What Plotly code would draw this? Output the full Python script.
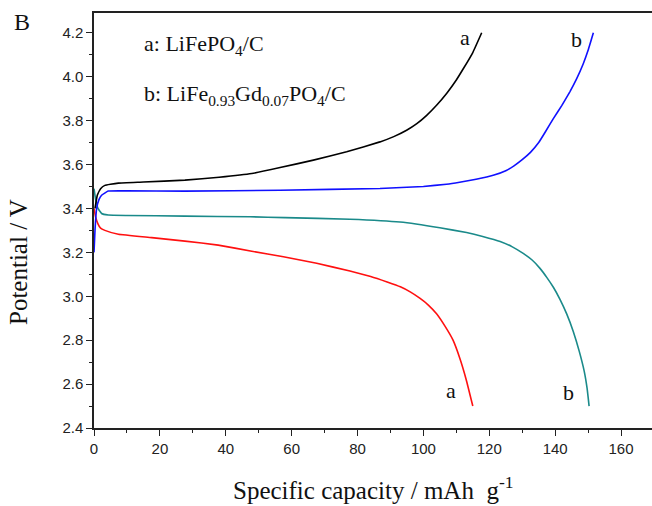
import plotly.graph_objects as go

# Charge curve a: LiFePO4/C (black)
a_charge_x = [0.3, 1.0, 2.0, 3.3, 5.0, 7.4, 15, 27.6, 38, 47.9, 56.5, 66.6, 76.7, 86.8, 91, 94.9, 98, 101, 104, 107.1, 110, 112.1, 115, 117.7]
a_charge_y = [3.40, 3.46, 3.49, 3.505, 3.51, 3.515, 3.52, 3.529, 3.542, 3.559, 3.586, 3.62, 3.658, 3.703, 3.727, 3.756, 3.786, 3.824, 3.87, 3.925, 3.985, 4.036, 4.11, 4.20]

# Charge curve b: LiFe0.93Gd0.07PO4/C (blue)
b_charge_x = [0.0, 0.3, 0.8, 1.5, 2.3, 4.3, 10, 27.6, 56.5, 86.8, 100, 107, 111, 116, 121.2, 125, 127.5, 130, 132.5, 135, 137, 139.4, 142, 144.5, 146.5, 148.5, 150, 151.6]
b_charge_y = [3.20, 3.30, 3.40, 3.44, 3.46, 3.479, 3.48, 3.479, 3.483, 3.491, 3.500, 3.510, 3.519, 3.533, 3.551, 3.572, 3.594, 3.622, 3.655, 3.700, 3.748, 3.808, 3.868, 3.932, 3.990, 4.058, 4.120, 4.20]

# Discharge curve b (teal)
b_dis_x = [0.0, 0.5, 1.2, 2.3, 4.3, 10, 27.6, 47.4, 58, 77.7, 92.9, 105, 113.1, 118, 123.3, 127, 130.3, 133, 135.4, 137.5, 139.5, 141.5, 143.5, 145.5, 147.3, 148.8, 149.7, 150.3]
b_dis_y = [3.49, 3.44, 3.40, 3.377, 3.37, 3.368, 3.365, 3.362, 3.358, 3.351, 3.338, 3.312, 3.290, 3.272, 3.249, 3.225, 3.195, 3.165, 3.127, 3.085, 3.04, 2.985, 2.92, 2.84, 2.75, 2.66, 2.58, 2.50]

# Discharge curve a (red)
a_dis_x = [0.0, 0.5, 1.2, 2.0, 3.3, 7.4, 17.5, 27.6, 37.7, 47.9, 57.5, 67.6, 77.7, 84, 89, 93, 96, 99, 101.5, 104, 106.5, 109, 111, 113, 115]
a_dis_y = [3.40, 3.36, 3.33, 3.31, 3.30, 3.282, 3.267, 3.251, 3.233, 3.205, 3.18, 3.15, 3.115, 3.09, 3.065, 3.043, 3.02, 2.99, 2.96, 2.92, 2.865, 2.80, 2.72, 2.62, 2.50]

x_ticks = [0, 20, 40, 60, 80, 100, 120, 140, 160]
y_ticks = [2.4, 2.6, 2.8, 3.0, 3.2, 3.4, 3.6, 3.8, 4.0, 4.2]

SERIF = "Liberation Serif, Times New Roman, serif"
SANS = "Liberation Sans, Arial, sans-serif"

fig = go.Figure()
for xs, ys, col in [(b_dis_x, b_dis_y, "#1a8a8a"), (a_dis_x, a_dis_y, "#ff1010"),
                    (a_charge_x, a_charge_y, "#000000"), (b_charge_x, b_charge_y, "#1010ff")]:
    fig.add_trace(go.Scatter(x=xs, y=ys, mode="lines", line=dict(color=col, width=1.6, shape="spline", smoothing=0.3),
                             showlegend=False, hoverinfo="skip"))

fig.update_layout(
    width=652, height=506,
    margin=dict(l=94, r=0, t=13, b=78),
    paper_bgcolor="white", plot_bgcolor="white",
    xaxis=dict(range=[0, 169.4], tickvals=x_ticks, ticks="outside", ticklen=6, tickwidth=1.3,
               tickcolor="#222", showline=True, linecolor="#222", linewidth=1.5, mirror=True,
               showgrid=False, zeroline=False,
               minor=dict(ticks="outside", dtick=10, tick0=0, ticklen=3.5, tickwidth=1.2, tickcolor="#222"),
               tickfont=dict(family=SANS, size=15, color="#222")),
    yaxis=dict(range=[2.4, 4.29], tickvals=y_ticks, tickformat=".1f", ticks="outside", ticklen=6, tickwidth=1.3,
               tickcolor="#222", showline=True, linecolor="#222", linewidth=1.5, mirror=False,
               showgrid=False, zeroline=False,
               minor=dict(ticks="outside", dtick=0.1, tick0=2.4, ticklen=3.5, tickwidth=1.2, tickcolor="#222"),
               tickfont=dict(family=SANS, size=15, color="#222")),
)

title_font = dict(family=SERIF, size=25, color="#111")
# axis titles (paper coords: plot spans x 94..652 px, y 13..428 px)
fig.add_annotation(xref="paper", yref="paper", x=(373 - 94) / 558, y=(428 - 488) / 415,
                   xanchor="center", yanchor="middle", showarrow=False,
                   text="Specific capacity / mAh  g<sup>-1</sup>", font=title_font)
fig.add_annotation(xref="paper", yref="paper", x=(18 - 94) / 558, y=(428 - 262) / 415,
                   xanchor="center", yanchor="middle", showarrow=False, textangle=-90,
                   text="Potential / V", font=title_font)

ann_font = dict(family=SERIF, size=22, color="#111")
fig.add_annotation(xref="paper", yref="paper", x=(22 - 94) / 558, y=(428 - 22) / 415, xanchor="center", yanchor="middle",
                   text="B", showarrow=False, font=dict(family=SERIF, size=24, color="#111"))
fig.add_annotation(x=14.5, y=4.145, xanchor="left", yanchor="middle", text="a: LiFePO<sub>4</sub>/C",
                   showarrow=False, font=ann_font)
fig.add_annotation(x=14.5, y=3.915, xanchor="left", yanchor="middle",
                   text="b: LiFe<sub>0.93</sub>Gd<sub>0.07</sub>PO<sub>4</sub>/C", showarrow=False, font=ann_font)
for tx, ty, t in [(112.5, 4.18, "a"), (146.5, 4.17, "b"), (108.5, 2.57, "a"), (144, 2.56, "b")]:
    fig.add_annotation(x=tx, y=ty, text=t, showarrow=False, xanchor="center", yanchor="middle", font=ann_font)

fig.write_html("out.html")
